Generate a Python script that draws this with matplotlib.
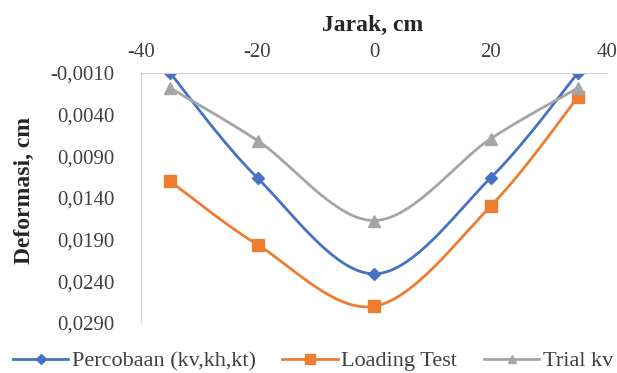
import matplotlib.pyplot as plt
from matplotlib.ticker import FuncFormatter
import numpy as np

jarak = [-35, -20, 0, 20, 35]
percobaan = [-0.0010, 0.0116, 0.0231, 0.0116, -0.0010]
loading_test = [0.0120, 0.0196, 0.0270, 0.0150, 0.0019]
trial_kv = [0.0008, 0.0071, 0.0167, 0.0069, 0.0008]

y_ticks = [-0.0010, 0.0040, 0.0090, 0.0140, 0.0190, 0.0240, 0.0290]
x_ticks = [-40, -20, 0, 20, 40]


def smooth(xs, ys, n=40):
    # Catmull-Rom style curve through the points, like a spreadsheet "smoothed line"
    xs = np.asarray(xs, float)
    ys = np.asarray(ys, float)
    px = np.concatenate([[xs[0]], xs, [xs[-1]]])
    py = np.concatenate([[ys[0]], ys, [ys[-1]]])
    out_x, out_y = [], []
    for i in range(1, len(px) - 2):
        t = np.linspace(0, 1, n)
        p0, p1, p2, p3 = (np.array([px[j], py[j]]) for j in range(i - 1, i + 3))
        c1 = p1 + (p2 - p0) / 6
        c2 = p2 - (p3 - p1) / 6
        pts = ((1 - t) ** 3)[:, None] * p1 + (3 * (1 - t) ** 2 * t)[:, None] * c1 \
            + (3 * (1 - t) * t ** 2)[:, None] * c2 + (t ** 3)[:, None] * p2
        out_x.extend(pts[:, 0])
        out_y.extend(pts[:, 1])
    return out_x, out_y


plt.rcParams['font.family'] = ['Liberation Serif', 'DejaVu Serif']
plt.rcParams['axes.unicode_minus'] = False

fig = plt.figure(figsize=(6.17, 3.73), dpi=100)
ax = fig.add_axes([141 / 617, 1 - 323 / 373, (607 - 141) / 617, (323 - 73) / 373])

series = [
    ('Percobaan (kv,kh,kt)', percobaan, '#4472C4', 'D', 6, 5),
    ('Loading Test', loading_test, '#ED7D31', 's', 9, 7),
    ('Trial kv', trial_kv, '#A5A5A5', '^', 8, 6),
]
for label, ys, color, marker, ms, leg_ms in series:
    sx, sy = smooth(jarak, ys)
    ax.plot(sx, sy, color=color, lw=2)
    ax.plot(jarak, ys, linestyle='none', marker=marker, color=color, ms=ms)
    ax.plot([], [], color=color, lw=2, marker=marker, ms=leg_ms, label=label)

ax.set_xlim(-40, 40)
ax.set_ylim(0.0290, -0.0010)
ax.set_xticks(x_ticks)
ax.set_yticks(y_ticks)
ax.xaxis.tick_top()
ax.xaxis.set_label_position('top')
ax.yaxis.set_major_formatter(FuncFormatter(lambda v, p: f'{v:.4f}'.replace('.', ',')))
ax.tick_params(length=0, labelsize=15, colors='#404040')
ax.tick_params(axis='y', pad=19)
ax.tick_params(axis='x', pad=8)

for side in ['right', 'bottom']:
    ax.spines[side].set_visible(False)
for side in ['left', 'top']:
    ax.spines[side].set_color('#D0D0D0')

ax.set_xlabel('Jarak, cm', fontsize=17, fontweight='bold', color='#262626')
ax.xaxis.set_label_coords(0.496, 1.17)
ax.set_ylabel('Deformasi, cm', fontsize=17, fontweight='bold', color='#262626')
ax.yaxis.set_label_coords(-0.228, 0.53)

ax.legend(loc='center', bbox_to_anchor=((313 - 141) / 466, -38 / 250), ncol=3,
          frameon=False, fontsize=16, handlelength=2.5, handletextpad=0.15,
          columnspacing=1.2, labelcolor='#404040', borderpad=0)

fig.savefig('out.png', dpi=100)
